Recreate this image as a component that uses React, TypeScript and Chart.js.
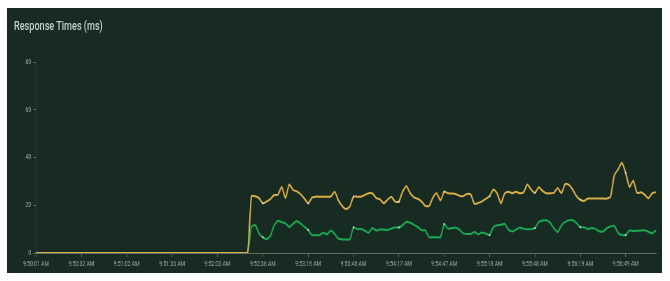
import React, { useEffect, useRef } from "react";
import { Chart, registerables } from "chart.js";

Chart.register(...registerables);

// ---- data ----
const TICK_LABELS = [
  "9:50:01 AM", "9:50:32 AM", "9:51:02 AM", "9:51:33 AM", "9:52:03 AM",
  "9:52:36 AM", "9:53:16 AM", "9:53:46 AM", "9:54:17 AM", "9:54:47 AM",
  "9:55:18 AM", "9:55:48 AM", "9:56:19 AM", "9:56:49 AM",
];
const POINTS_PER_TICK = 12;

const Y_TICKS = [0, 20, 40, 60, 80];

// slower series (yellow)
const P95 = [
  0, 0, 0, 0, 0, 0, 0, 0, 0, 0, 0, 0,
  0, 0, 0, 0, 0, 0, 0, 0, 0, 0, 0, 0,
  0, 0, 0, 0, 0, 0, 0, 0, 0, 0, 0, 0,
  0, 0, 0, 0, 0, 0, 0, 0, 0, 0, 0, 0,
  0, 0, 0, 0, 0, 0, 0, 0, 0, 23.8, 23.8, 23.0,
  20.8, 21.5, 22.6, 24.3, 24.4, 27.7, 23.0, 28.7, 26.4, 25.8, 24.6, 22.8,
  20.8, 23.2, 23.6, 23.6, 23.6, 23.6, 23.6, 25.7, 22.0, 19.7, 18.4, 19.4,
  23.6, 23.6, 23.6, 24.3, 25.0, 25.0, 23.0, 22.5, 20.8, 22.3, 23.6, 21.5,
  21.5, 25.7, 28.0, 25.0, 23.3, 22.7, 21.5, 19.7, 19.7, 23.2, 25.0, 22.0,
  25.7, 25.0, 24.9, 24.7, 24.0, 23.8, 24.7, 24.5, 20.6, 21.0, 21.6, 22.7,
  23.8, 26.6, 25.0, 20.8, 25.0, 25.7, 25.0, 25.7, 25.0, 25.5, 28.7, 26.5,
  25.2, 27.5, 26.0, 25.0, 25.0, 25.2, 27.2, 25.0, 28.9, 28.5, 26.5, 23.8,
  22.3, 21.8, 22.8, 22.8, 22.8, 22.8, 22.8, 22.8, 23.6, 32.6, 35.0, 37.8,
  33.6, 27.7, 30.3, 25.2, 25.4, 24.5, 22.9, 25.0, 25.5,
];

// faster series (green)
const AVG = [
  0, 0, 0, 0, 0, 0, 0, 0, 0, 0, 0, 0,
  0, 0, 0, 0, 0, 0, 0, 0, 0, 0, 0, 0,
  0, 0, 0, 0, 0, 0, 0, 0, 0, 0, 0, 0,
  0, 0, 0, 0, 0, 0, 0, 0, 0, 0, 0, 0,
  0, 0, 0, 0, 0, 0, 0, 0, 0, 11.0, 11.7, 8.2,
  6.6, 5.8, 7.2, 11.5, 13.5, 12.9, 12.4, 10.9, 12.2, 13.4, 12.3, 11.0,
  9.6, 7.5, 7.5, 7.5, 8.5, 7.8, 9.4, 8.0, 6.0, 5.7, 5.7, 5.7,
  10.7, 10.0, 10.1, 9.3, 8.5, 10.5, 9.4, 9.8, 9.8, 9.6, 10.3, 10.7,
  10.7, 11.6, 13.1, 12.7, 11.8, 10.9, 9.6, 9.5, 6.6, 6.6, 6.6, 6.6,
  12.1, 10.2, 10.4, 10.7, 9.8, 8.2, 8.0, 8.0, 8.8, 7.8, 8.6, 8.1,
  7.5, 10.8, 11.6, 11.8, 12.2, 9.8, 9.0, 9.8, 10.7, 10.1, 9.9, 10.0,
  10.4, 13.0, 13.6, 13.7, 12.7, 10.4, 8.8, 11.5, 13.0, 13.7, 13.7, 12.5,
  10.8, 10.8, 10.0, 10.5, 10.1, 9.1, 9.0, 10.4, 11.1, 11.4, 8.4, 7.5,
  7.5, 9.4, 9.2, 9.3, 9.4, 9.5, 8.9, 8.2, 9.5,
];

// ---- style ----
const BG = "#172b23";
const YELLOW = "#dcae48";
const GREEN = "#19aa52";
const TICK_COLOR = "#a0aaa5";
const X_AXIS_COLOR = "#5d6e66";
const Y_AXIS_COLOR = "#2f4239";
const TITLE_COLOR = "#c6cec9";
const DOT_COLOR = "#d8e2d6";
const SX = 0.7;
const PANEL_W = 655;
const PANEL_H = 265;
const INNER_W = 936;

export default function App() {
  const ref = useRef<HTMLCanvasElement>(null);

  useEffect(() => {
    if (!ref.current) return;
    const labels = P95.map((_, i) =>
      i % POINTS_PER_TICK === 0 ? TICK_LABELS[i / POINTS_PER_TICK] ?? "" : ""
    );
    const pointR = (ctx: any) =>
      ctx.dataIndex % POINTS_PER_TICK === 0 && ctx.raw > 0 ? 1.1 : 0;

    const chart = new Chart(ref.current, {
      type: "line",
      data: {
        labels,
        datasets: [
          {
            label: "p95",
            data: P95,
            borderColor: YELLOW,
            backgroundColor: YELLOW,
            borderWidth: 2,
            pointRadius: pointR,
            pointBackgroundColor: DOT_COLOR,
            pointBorderWidth: 0,
            tension: 0.2,
          },
          {
            label: "avg",
            data: AVG,
            borderColor: GREEN,
            backgroundColor: GREEN,
            borderWidth: 2,
            pointRadius: pointR,
            pointBackgroundColor: DOT_COLOR,
            pointBorderWidth: 0,
            tension: 0.2,
          },
        ],
      },
      options: {
        animation: false,
        responsive: true,
        maintainAspectRatio: false,
        layout: { padding: { top: 54, right: 9, left: 0, bottom: 0 } },
        plugins: {
          legend: { display: false },
          title: { display: false },
          tooltip: { enabled: false },
        },
        scales: {
          x: {
            type: "category",
            offset: false,
            grid: {
              display: true,
              drawOnChartArea: false,
              drawTicks: true,
              tickLength: 4,
              tickColor: (ctx: any) =>
                ctx.index % POINTS_PER_TICK === 0 ? X_AXIS_COLOR : "rgba(0,0,0,0)",
            },
            border: { display: true, color: X_AXIS_COLOR, width: 1 },
            ticks: {
              autoSkip: false,
              maxRotation: 0,
              minRotation: 0,
              padding: 3,
              color: TICK_COLOR,
              font: { family: "Roboto", size: 7.3 },
            },
            afterFit: (s: any) => {
              s.height = 20;
            },
          },
          y: {
            min: Y_TICKS[0],
            max: Y_TICKS[Y_TICKS.length - 1],
            ticks: {
              stepSize: Y_TICKS[1] - Y_TICKS[0],
              padding: 3,
              color: TICK_COLOR,
              font: { family: "Roboto", size: 7.3 },
            },
            grid: {
              display: true,
              drawOnChartArea: false,
              drawTicks: true,
              tickLength: 4,
              tickColor: X_AXIS_COLOR,
            },
            border: { display: true, color: Y_AXIS_COLOR, width: 1 },
            afterFit: (s: any) => {
              s.width = 41.4;
            },
          },
        },
      },
    });
    return () => chart.destroy();
  }, []);

  return (
    <div
      style={{
        position: "absolute",
        left: 7,
        top: 8,
        width: PANEL_W,
        height: PANEL_H,
        background: BG,
        overflow: "hidden",
      }}
    >
      <div
        style={{
          position: "absolute",
          left: 0,
          top: 0,
          width: INNER_W,
          height: PANEL_H,
          transform: `scaleX(${SX})`,
          transformOrigin: "0 0",
        }}
      >
        <div
          style={{
            position: "absolute",
            left: 10,
            top: 11,
            fontFamily: "Roboto",
            fontWeight: 500,
            fontSize: 13,
            lineHeight: "13px",
            color: TITLE_COLOR,
            whiteSpace: "nowrap",
          }}
        >
          Response Times (ms)
        </div>
        <div style={{ position: "absolute", left: 0, top: 0, width: INNER_W, height: PANEL_H }}>
          <canvas ref={ref} />
        </div>
      </div>
    </div>
  );
}
